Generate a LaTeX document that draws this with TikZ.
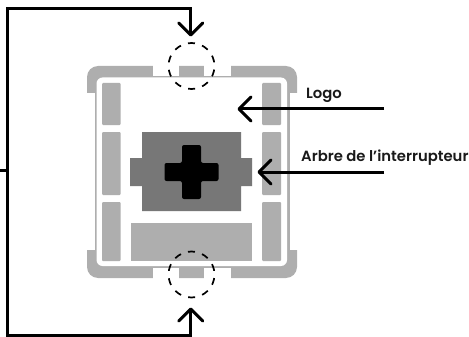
\documentclass[tikz,border=0pt]{standalone}
\usepackage{fontspec}
\setmainfont{Poppins}
\newfontfamily\lblfont{Poppins SemiBold}
\usetikzlibrary{arrows.meta}
\definecolor{lightg}{HTML}{AEAEAE}
\definecolor{darkg}{HTML}{777777}
\definecolor{ink}{HTML}{1A1A1A}
\tikzset{
  wire/.style={line width=3pt,draw=black,line join=miter},
  pointer/.style={wire,-{Straight Barb[length=12pt,width=24pt,line width=3pt,round]}},
  ringmark/.style={draw=black,line width=1.7pt,dash pattern=on 7pt off 7.45pt,dash phase=10.75pt},
  pillar/.style={fill=lightg,rounded corners=1pt},
  lbl/.style={anchor=base west,inner sep=0pt,font=\lblfont\fontsize{14.8}{17}\selectfont,text=ink}
}
\begin{document}
\begin{tikzpicture}[x=1pt,y=-1pt]
\useasboundingbox (0,0) rectangle (469,337);
% housing
\fill[lightg,rounded corners=11pt] (87,66) rectangle (297,278);
\fill[white] (86,93) rectangle (94.5,250);
\fill[white] (289.5,93) rectangle (298,250);
\foreach \a/\b in {153/179,204/231}{
  \fill[white] (\a,65) rectangle (\b,76);
  \fill[white] (\a,268) rectangle (\b,279);
}
\fill[white,rounded corners=6pt] (96.5,77.5) rectangle (287,266);
% pillars
\foreach \xa/\xb in {102/120.5,262/281}{
  \fill[pillar] (\xa,83) rectangle (\xb,125);
  \fill[pillar] (\xa,132) rectangle (\xb,195);
  \fill[pillar] (\xa,202) rectangle (\xb,261);
}
\fill[lightg] (131,223) rectangle (252,261);
% stem
\fill[darkg] (142,132) -- (241,132) -- (241,158) -- (252,158) -- (252,186) -- (241,186) -- (241,211) -- (142,211) -- (142,186) -- (130,186) -- (130,158) -- (142,158) -- cycle;
\fill[black,rounded corners=2pt] (182,145) -- (201,145) -- (201,163) -- (218.5,163) -- (218.5,181) -- (201,181) -- (201,199) -- (182,199) -- (182,181) -- (164.5,181) -- (164.5,163) -- (182,163) -- cycle;
% rings
\node[circle,minimum size=46pt,inner sep=0pt,ringmark] (ringtop) at (191.5,66) {};
\node[circle,minimum size=46pt,inner sep=0pt,ringmark] (ringbot) at (191.5,274.5) {};
% wires
\coordinate (stub) at (0,170);
\coordinate (trunk) at (7.5,170);
\coordinate (tipT) at (190.7,36.5);
\coordinate (tipB) at (190.7,307.5);
\draw[wire] (stub) -- (trunk);
\draw[pointer] (trunk) |- (190.7,8.5) -- (tipT);
\draw[pointer] (trunk) |- (190.7,335) -- (tipB);
% callouts
\coordinate (logoS) at (384,109);
\coordinate (logoT) at (237.5,109);
\coordinate (arbS) at (384,172);
\coordinate (arbT) at (257.5,172);
\draw[pointer] (logoS) -- (logoT);
\draw[pointer] (arbS) -- (arbT);
\node[lbl] (logo) at (306,98.5) {Logo};
\node[lbl] (arbre) at (301,161.5) {Arbre de l’interrupteur};
\end{tikzpicture}
\end{document}
